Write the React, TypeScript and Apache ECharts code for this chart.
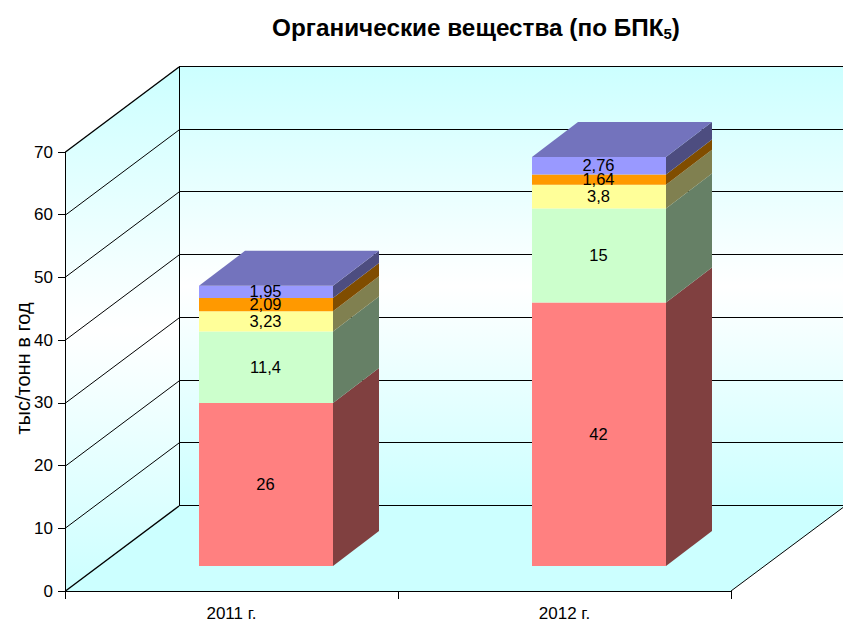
import React, { useEffect, useRef } from "react";
import * as echarts from "echarts";

const categories = ["2011 г.", "2012 г."];
const yTicks = [0, 10, 20, 30, 40, 50, 60, 70];
const yAxisTitle = "тыс/тонн в год";
const seriesA = [26, 42];
const seriesB = [11.4, 15];
const seriesC = [3.23, 3.8];
const seriesD = [2.09, 1.64];
const seriesE = [1.95, 2.76];
const stacks = [seriesA, seriesB, seriesC, seriesD, seriesE];
const frontColors = ["#FF8080", "#CCFFCC", "#FFFF99", "#FF9900", "#9999FF"];
const sideColors = ["#804040", "#668066", "#808050", "#804D00", "#4D4D80"];
const topColor = "#7373BD";
const FONT = "'Liberation Sans', Arial, sans-serif";

const WALL_DX = 114;
const WALL_DY = -85;
const BAR_DX = 34.5;
const BAR_DY = -25;
const SIDE_DX = 46;
const SIDE_DY = -35;
const BAR_RATIO = 0.4024;

const wallGradient = () =>
  new echarts.graphic.LinearGradient(0, 0, 0, 1, [
    { offset: 0, color: "#CCFFFF" },
    { offset: 0.5, color: "#FFFFFF" },
    { offset: 1, color: "#CCFFFF" },
  ]);

const line = (x1: number, y1: number, x2: number, y2: number, color = "#000", width = 1) => ({
  type: "line",
  shape: { x1, y1, x2, y2 },
  style: { stroke: color, lineWidth: width, fill: null },
  silent: true,
});

const renderWalls = (params: any, api: any) => {
  const cs = params.coordSys;
  const x0 = cs.x;
  const x1 = cs.x + cs.width;
  const yOf = (v: number) => Math.round(api.coord([0, v])[1]);
  const y0 = yOf(0);
  const yT = yOf(yTicks[yTicks.length - 1]);
  const children: any[] = [
    {
      type: "polygon",
      shape: { points: [[x0, y0], [x1, y0], [x1 + WALL_DX, y0 + WALL_DY], [x0 + WALL_DX, y0 + WALL_DY]] },
      style: { fill: "#CCFFFF" },
      silent: true,
    },
    {
      type: "polygon",
      shape: { points: [[x0, yT], [x0 + WALL_DX, yT + WALL_DY], [x0 + WALL_DX, y0 + WALL_DY], [x0, y0]] },
      style: { fill: wallGradient() },
      silent: true,
    },
    {
      type: "rect",
      shape: { x: x0 + WALL_DX, y: yT + WALL_DY, width: cs.width, height: y0 - yT },
      style: { fill: wallGradient() },
      silent: true,
    },
  ];
  yTicks.forEach((v, i) => {
    const y = yOf(v);
    const heavy = i === 0 || i === yTicks.length - 1;
    children.push(line(x0 + 0.5, y, x0 + WALL_DX, y + WALL_DY, "#000", heavy ? 1.4 : 1));
    children.push(line(x0 + WALL_DX, y + WALL_DY - 0.5, x1 + WALL_DX, y + WALL_DY - 0.5));
  });
  children.push(line(x0 + WALL_DX + 0.5, yT + WALL_DY, x0 + WALL_DX + 0.5, y0 + WALL_DY));
  children.push(line(x1, y0, x1 + WALL_DX, y0 + WALL_DY));
  return { type: "group", children };
};

const barFrame = (api: any) => {
  const base = api.coord([api.value(0), api.value(1)]);
  const top = api.coord([api.value(0), api.value(2)]);
  const w = api.size([1, 0])[0] * BAR_RATIO;
  return { l: base[0] + BAR_DX - w / 2, r: base[0] + BAR_DX + w / 2, b: base[1] + BAR_DY, t: top[1] + BAR_DY };
};

const makeRenderBar = (idx: number) => (_params: any, api: any) => {
  const { l, r, b, t } = barFrame(api);
  const children: any[] = [
    {
      type: "polygon",
      shape: { points: [[r, b], [r + SIDE_DX, b + SIDE_DY], [r + SIDE_DX, t + SIDE_DY], [r, t]] },
      style: { fill: sideColors[idx] },
    },
    { type: "rect", shape: { x: l, y: t, width: r - l, height: b - t }, style: { fill: frontColors[idx] } },
  ];
  if (idx === stacks.length - 1) {
    children.push({
      type: "polygon",
      shape: { points: [[l, t], [r, t], [r + SIDE_DX, t + SIDE_DY], [l + SIDE_DX, t + SIDE_DY]] },
      style: { fill: topColor },
    });
  }
  return { type: "group", children };
};

const renderLabel = (_params: any, api: any) => {
  const { l, r, b, t } = barFrame(api);
  return {
    type: "text",
    style: {
      x: (l + r) / 2 - 0.5,
      y: (b + t) / 2 - 0.5,
      text: String(api.value(3)).replace(".", ","),
      align: "center",
      verticalAlign: "middle",
      fontFamily: FONT,
      fontSize: 16.5,
      fill: "#000",
    },
  };
};

const App = () => {
  const ref = useRef<HTMLDivElement>(null);
  useEffect(() => {
    const chart = echarts.init(ref.current!, undefined, { renderer: "svg" });
    const barSeries: any[] = [];
    const labelData: any[] = [];
    const running = categories.map(() => 0);
    stacks.forEach((vals, idx) => {
      const data = vals.map((v, c) => {
        const row = [c, running[c], running[c] + v, v];
        running[c] += v;
        labelData.push(row);
        return row;
      });
      barSeries.push({
        type: "custom",
        z: 3,
        silent: true,
        encode: { x: 0, y: [1, 2] },
        data,
        renderItem: makeRenderBar(idx),
      });
    });
    chart.setOption({
      animation: false,
      backgroundColor: "#fff",
      title: {
        text: "Органические вещества (по БПК{s|5})",
        left: 471,
        top: 9,
        textAlign: "center",
        textStyle: {
          fontFamily: FONT,
          fontSize: 24.3,
          fontWeight: "bold",
          color: "#000",
          rich: {
            s: { fontFamily: FONT, fontSize: 15, fontWeight: "bold", color: "#000", padding: [12, 0, 0, 0] },
          },
        },
      },
      graphic: [
        {
          type: "text",
          x: 23,
          y: 368.5,
          rotation: Math.PI / 2,
          style: {
            text: yAxisTitle,
            align: "center",
            verticalAlign: "middle",
            fontFamily: FONT,
            fontSize: 20,
            fill: "#000",
          },
        },
      ],
      grid: { left: 65, right: 112, top: 152, bottom: 35, outerBoundsMode: "none" },
      xAxis: {
        type: "category",
        data: categories,
        z: 10,
        axisLine: { show: true, lineStyle: { color: "#000", width: 1 } },
        axisTick: { show: true, length: 8, lineStyle: { color: "#000" } },
        axisLabel: { fontFamily: FONT, fontSize: 17, color: "#000", margin: 14 },
      },
      yAxis: {
        type: "value",
        min: 0,
        max: 70,
        interval: 10,
        z: 10,
        axisLine: { show: true, lineStyle: { color: "#000", width: 1 } },
        axisTick: { show: true, length: 7, lineStyle: { color: "#000" } },
        axisLabel: { fontFamily: FONT, fontSize: 17, color: "#000", margin: 12 },
        splitLine: { show: false },
      },
      series: [
        {
          type: "custom",
          z: 1,
          silent: true,
          encode: { x: 0, y: 1 },
          data: [[0, 0]],
          renderItem: renderWalls,
        },
        ...barSeries,
        {
          type: "custom",
          z: 5,
          silent: true,
          encode: { x: 0, y: [1, 2] },
          data: labelData,
          renderItem: renderLabel,
        },
      ],
    });
    return () => chart.dispose();
  }, []);
  return <div ref={ref} style={{ position: "fixed", left: 0, top: 0, width: 843, height: 626 }} />;
};

export default App;
